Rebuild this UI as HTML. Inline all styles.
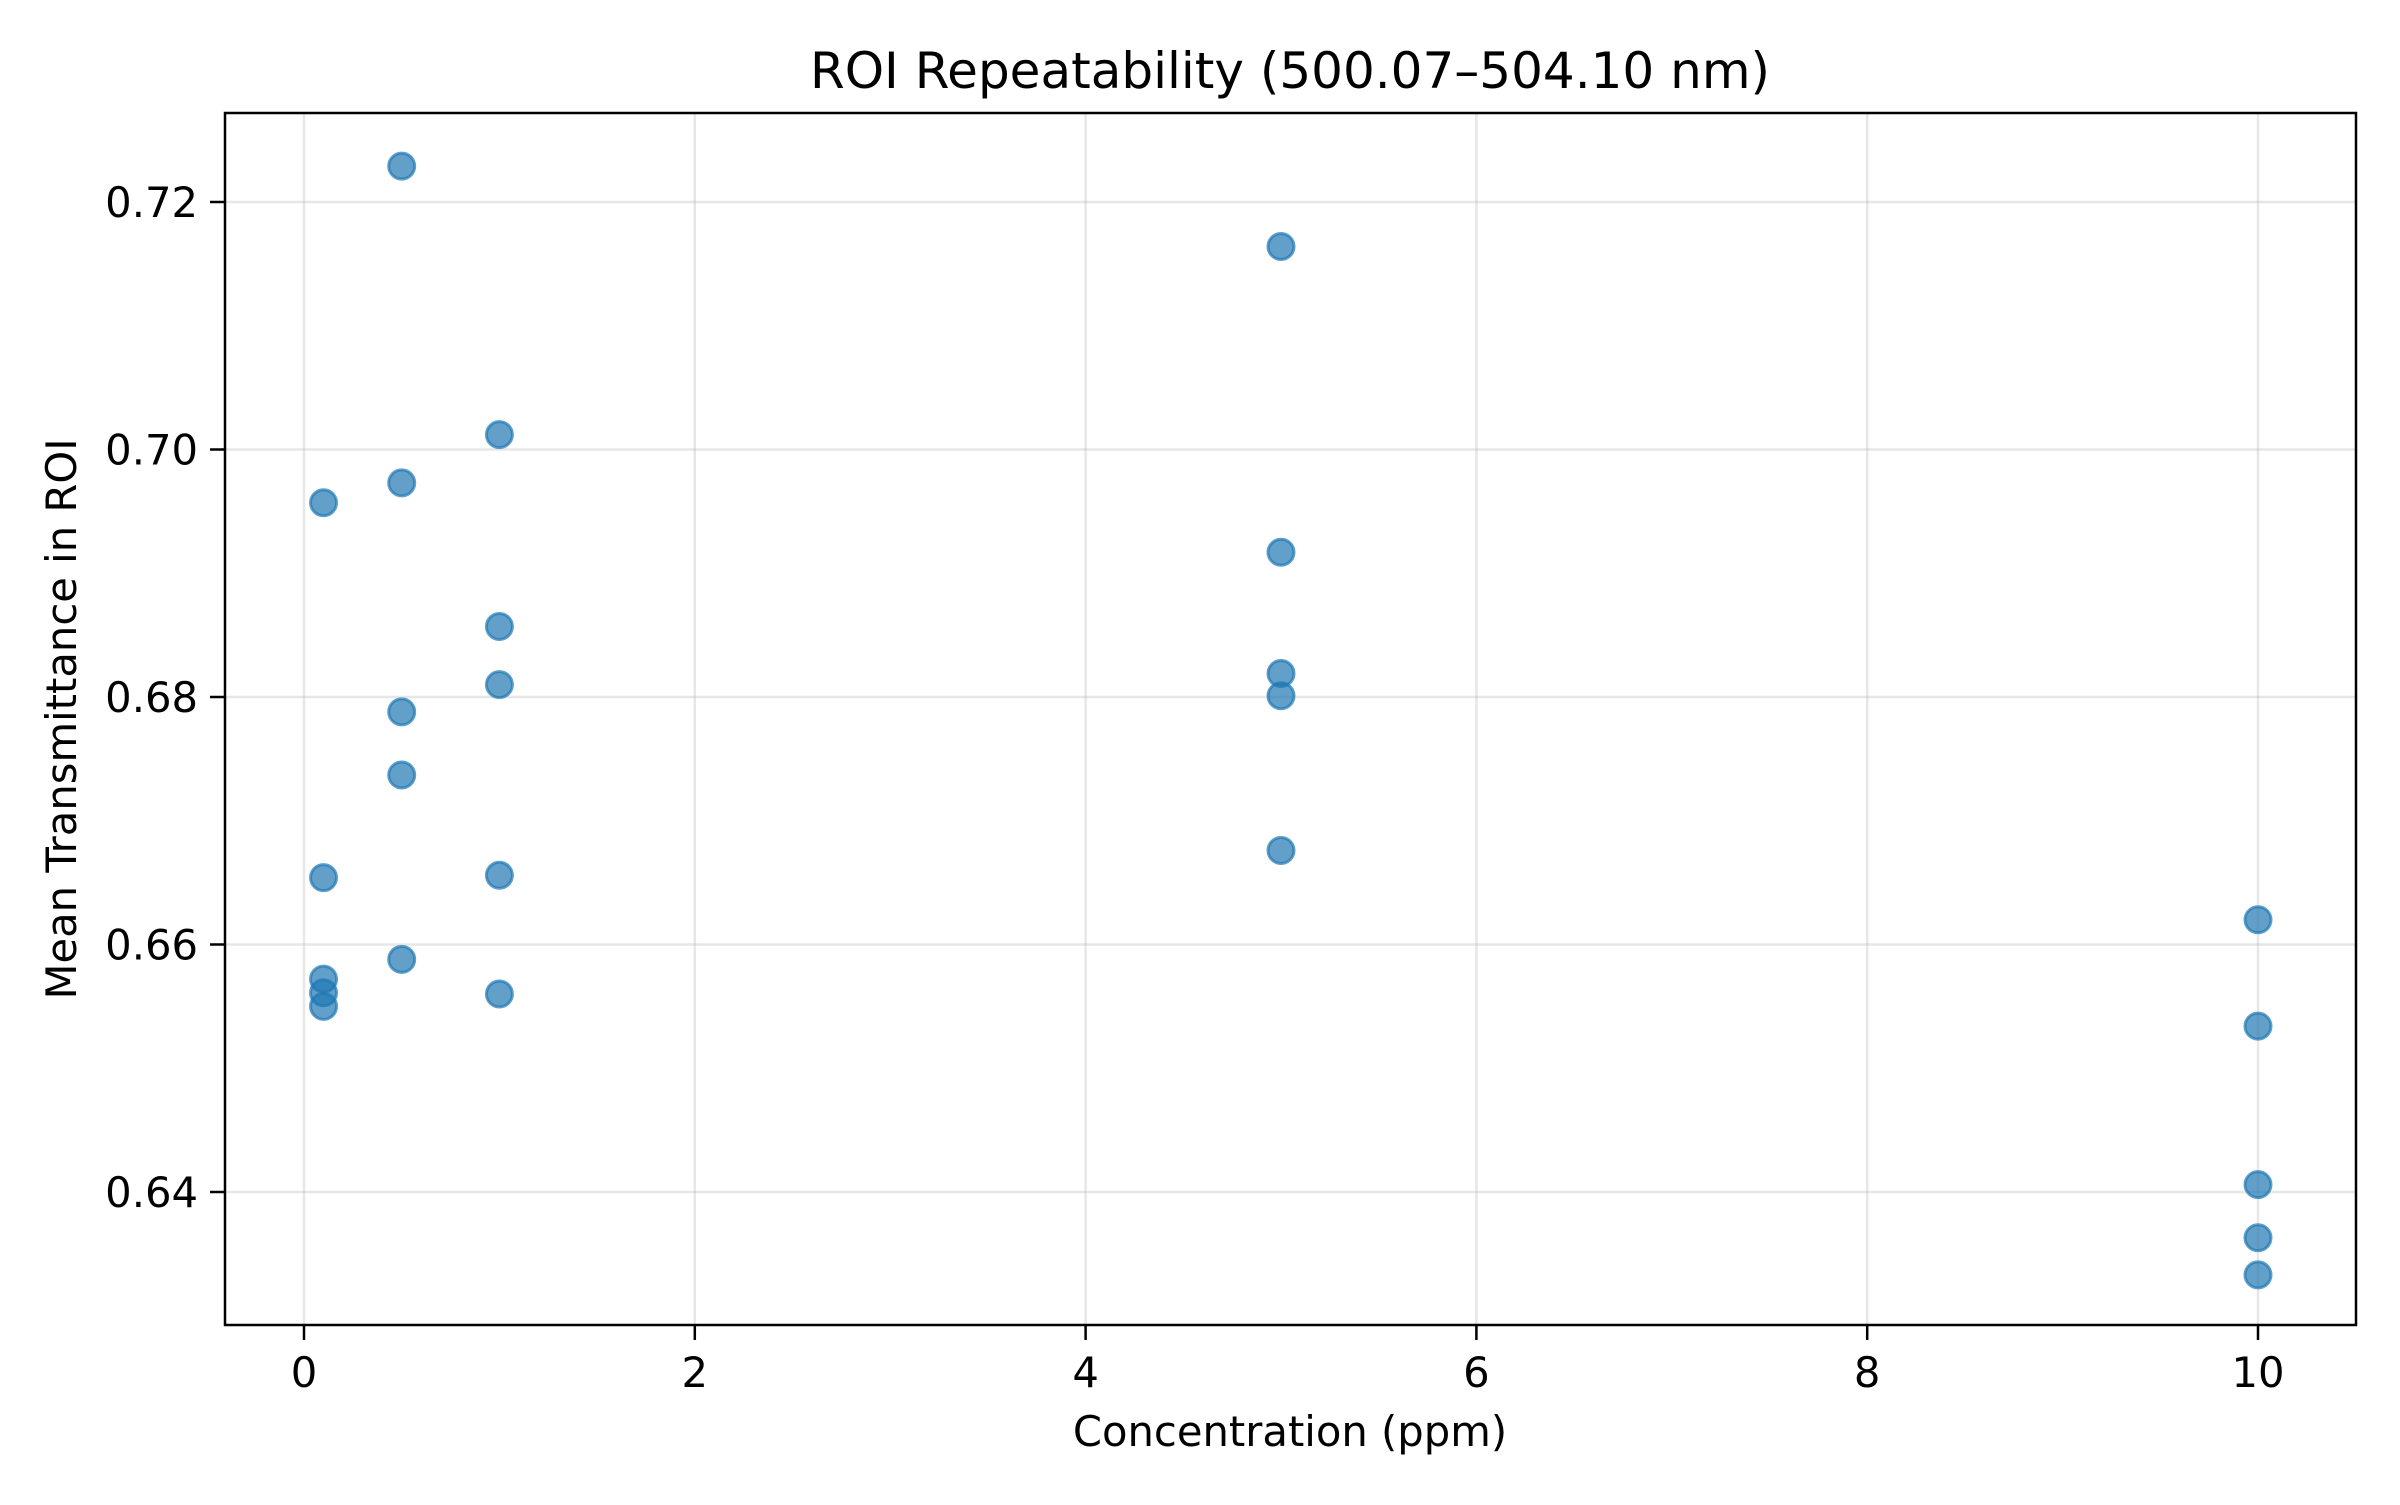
<!DOCTYPE html>
<html><head><meta charset="utf-8"><style>
body{margin:0;background:#fff}
svg text{font-family:"DejaVu Sans","Liberation Sans",sans-serif;fill:#000}
</style></head><body>
<svg id="chart" width="2400" height="1500" xmlns="http://www.w3.org/2000/svg">
<rect width="2400" height="1500" fill="#fff"/>
<g id="grid"></g>
<g id="pts"></g>
<rect x="225" y="113" width="2131" height="1212" fill="none" stroke="#000" stroke-width="2.5"/>
<g id="ticks"></g>
<text x="1290" y="88" font-size="50" text-anchor="middle">ROI Repeatability (500.07–504.10 nm)</text>
<text x="1290" y="1446" font-size="41.7" text-anchor="middle">Concentration (ppm)</text>
<text transform="translate(76,719) rotate(-90)" font-size="41.7" text-anchor="middle">Mean Transmittance in ROI</text>
</svg>
<script>
const xs = [0.1,0.1,0.1,0.1,0.1, 0.5,0.5,0.5,0.5,0.5, 1,1,1,1,1, 5,5,5,5,5, 10,10,10,10,10];
const ys = [0.6957,0.6654,0.6572,0.6561,0.6550, 0.7229,0.6973,0.6788,0.6737,0.6588, 0.7012,0.6857,0.6810,0.6656,0.6560, 0.7164,0.6917,0.6819,0.6801,0.6676, 0.6620,0.6534,0.6406,0.6363,0.6333];
const xTicks = [0,2,4,6,8,10];
const yTicks = [0.64,0.66,0.68,0.70,0.72];
const yTickLabels = ["0.64","0.66","0.68","0.70","0.72"];
const X = v => 304 + v*195.4;
const Y = v => 202 + (0.72 - v)/0.02*247.5;
const NS = "http://www.w3.org/2000/svg";
const grid = document.getElementById('grid'), ticks = document.getElementById('ticks'), pts = document.getElementById('pts');
function mk(tag, attrs, parent){const e=document.createElementNS(NS,tag);for(const k in attrs)e.setAttribute(k,attrs[k]);parent.appendChild(e);return e;}
xTicks.forEach(t=>{
  const g = mk('line',{x1:X(t),x2:X(t),y1:113,y2:1325,stroke:'#b0b0b0','stroke-opacity':0.3,'stroke-width':2.5},grid);
  
  
  const tk = mk('line',{x1:X(t),x2:X(t),y1:1325,y2:1340,stroke:'#000','stroke-width':2.5},ticks);
  
  
  const tx = mk('text',{x:X(t),y:1387,'font-size':41.7,'text-anchor':'middle'},ticks);
  tx.textContent = String(t);
  
  
});
yTicks.forEach((t,i)=>{
  const g = mk('line',{x1:225,x2:2356,y1:Y(t),y2:Y(t),stroke:'#b0b0b0','stroke-opacity':0.3,'stroke-width':2.5},grid);
  
  
  const tk = mk('line',{x1:210,x2:225,y1:Y(t),y2:Y(t),stroke:'#000','stroke-width':2.5},ticks);
  
  
  const tx = mk('text',{x:198,y:Y(t)+15,'font-size':41.7,'text-anchor':'end'},ticks);
  tx.textContent = yTickLabels[i];
  
  
});
xs.forEach((x,i)=>{
  const c = mk('circle',{cx:X(x),cy:Y(ys[i]),r:13,fill:'#1f77b4','fill-opacity':0.7,stroke:'#1f77b4','stroke-opacity':0.7,'stroke-width':3},pts);
  
  
});
</script>
</body></html>
